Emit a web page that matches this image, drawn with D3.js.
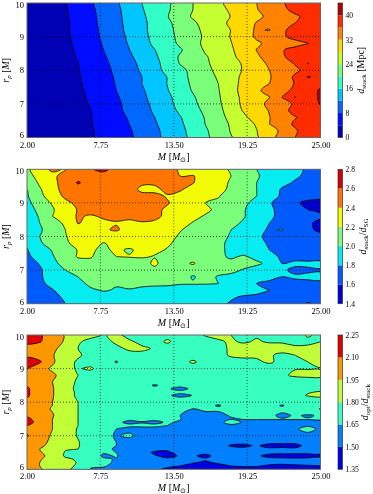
<!DOCTYPE html>
<html>
<head>
<meta charset="utf-8">
<script src="https://cdn.jsdelivr.net/npm/d3@7"></script>
<style>
  html, body { margin: 0; padding: 0; background: #fff; }
  svg { display: block; filter: blur(0.3px); }
  text { font-family: "Liberation Serif", serif; fill: #000; }
</style>
</head>
<body>
<svg id="fig" width="373" height="494"></svg>
<script>
// grid axes: one column per solar mass, rows run from r_p = 10 down to r_p = 6
const massValues = d3.range(2, 26);
const rpValues = [10, 9.8, 9.6, 9.4, 9.2, 9, 8.8, 8.6, 8.4, 8.2, 8, 7.8, 7.6, 7.4, 7.2, 7, 6.8, 6.6, 6.4, 6.2, 6];
// bottom panel has thin features, so it gets extra rows
const optRpValues = [10, 9.8, 9.6, 9.4, 9.2, 9, 8.8, 8.6, 8.5, 8.4, 8.3, 8.2, 8.1, 8, 7.9, 7.8, 7.6, 7.5, 7.4, 7.3, 7.2, 7, 6.8, 6.7, 6.6, 6.5, 6.4, 6.3, 6.2, 6.1, 6];
const massTicks = [2, 7.75, 13.5, 19.25, 25];
const rpTicks = [6, 7, 8, 9, 10];

const stackLevels = [0, 4, 8, 12, 16, 20, 24, 28, 32, 36, 40, 44];
const stackTicks = [0, 8, 16, 24, 32, 40];
const ratioLevels = [1.4, 1.6, 1.8, 2.0, 2.2, 2.4, 2.6, 2.8];
const optLevels = [1.35, 1.5, 1.65, 1.8, 1.95, 2.1, 2.25];

// d_stack [Mpc]
const stackGrid = [
  [1,1.3,2.5,3.8,5.6,7.5,9.5,11.4,13.7,16,17.7,19.3,21.5,24,25.7,27.4,28.9,30.5,32,33.8,35.6,37.3,38,38.5],
  [1,1.2,2.5,3.7,5.4,7.3,9.3,11.2,13.4,15.7,17.7,19.5,21.7,24,25.5,27,28.5,30.2,31.8,33.5,35.3,36.8,38,38.5],
  [1,1.2,2.4,3.6,5.3,7.1,9.1,11.1,13.2,15.3,17.6,19.8,22.3,24.4,25.6,26.9,28.1,29.7,31.3,32.7,34.1,35.5,36.8,38],
  [1,1.2,2.3,3.5,5.1,7,9,11,13,15.1,17.2,19.3,21.3,23.4,25.2,26.9,28.6,30.4,32.2,33.4,34.7,36,37.5,38.5],
  [1,1.1,2.3,3.5,5,6.8,8.8,10.8,12.9,15.1,17.2,19.1,21,23,24.8,26.4,28.1,30.7,32.4,31.8,35.5,37,38,38.5],
  [1,1.1,2.2,3.4,4.9,6.7,8.6,10.6,12.6,14.8,17,18.9,20.8,22.7,24.6,26.4,28.2,30.5,32.5,34,35.5,37,38,39],
  [1,1.1,2.2,3.3,4.7,6.4,8.3,10.3,12.3,14.6,16.7,18.6,20.6,22.8,24.8,26.4,27.9,29.7,31.5,32.8,33.9,34.9,35.9,37.5],
  [1,1,2.1,3.2,4.4,6.2,8,9.9,11.9,13.9,15.9,17.8,19.6,22,24.5,26,27.5,29.9,32.1,33.9,35.8,37,38,39],
  [0.9,1,2,3.1,4.2,5.9,7.6,9.5,11.4,13.3,15.3,18,20.4,22,23.7,25.4,27.2,29.3,31.4,33.5,35.6,37.2,37.9,39],
  [0.9,1,2,3,3.9,5.8,7.2,9,10.9,12.8,14.9,17.4,20.2,21.8,23.5,25.1,26.8,28.4,30.6,32.6,34.4,36.2,40.1,39],
  [0.9,1,1.9,3,3.9,5.3,7,8.7,10.5,12.5,14.8,17,19,21,22.9,25,26.7,28.3,30.2,32,33.7,35.4,37,38.8],
  [0.9,1,1.9,2.9,3.7,5.1,6.8,8.4,10.2,12,14.1,16.1,18.8,20.8,22.6,24.4,27,28.6,30.1,31.7,34.1,36.5,40.2,39.3],
  [0.8,1,1.8,2.8,3.6,4.9,6.5,8.2,10,12,14,16.1,18.5,20.6,22.3,24,27.1,28.7,30.3,32,34.1,36.2,37.5,38.8],
  [0.8,0.9,1.7,2.7,3.5,4.6,6.3,8,9.6,11.5,13.7,15.8,18,20.3,22,23.8,27,29,31.4,33.2,34.9,36.8,38,40.5],
  [0.8,0.9,1.6,2.6,3.4,4.4,6,7.6,9.4,11.2,13.3,15.3,17.3,19.6,21.7,23.5,27,28.6,30.2,31.9,36.1,40.1,38,40.6],
  [0.7,0.8,1.5,2.5,3.3,4.2,5.8,7.3,9,10.8,12.9,15,17.1,19.2,21.4,23.2,26.7,28.6,30.8,32.8,34.6,36.5,38,40.2],
  [0.7,0.8,1.4,2.4,3.2,4,5.6,7.1,8.9,10.6,12.5,14.5,16.6,18.7,20.8,22.7,26.2,28.3,30.2,32.2,35,37,38,39],
  [0.7,0.8,1.3,2.3,3.1,3.9,5.3,6.8,8.3,10,12,13.9,15.8,18,20.3,22.2,25.5,27.4,29.5,31.9,33.8,35.8,37,39],
  [0.7,0.7,1.2,2.2,3,3.8,5.1,6.5,8,9.6,11.6,13.5,15.4,17.6,20.1,22.1,24.5,26.3,28.4,32,34.5,36.5,38,40.1],
  [0.7,0.7,1.1,2.1,2.9,3.7,4.9,6.3,7.6,9.3,11.2,13.1,15.1,17.1,19.6,21.6,24.3,26,27.9,30.6,32.7,35.6,37.5,38.5],
  [0.7,0.7,1.1,2,2.8,3.6,4.7,6,7.4,9,11,12.9,14.9,16.8,19.3,21.3,23.8,25.2,27.5,30.5,33.5,36,37,38]
];

// d_stack / d_SG
const ratioGrid = [
  [2.15,2.35,2.42,2.39,2.52,2.59,2.63,2.55,2.5,2.5,2.5,2.45,2.38,2.3,2.28,2.25,2.18,2.1,2,1.95,1.9,1.85,1.77,1.72],
  [2.1,2.3,2.37,2.45,2.52,2.55,2.55,2.52,2.5,2.5,2.48,2.45,2.4,2.41,2.33,2.28,2.2,2.1,2.02,1.93,1.88,1.83,1.76,1.72],
  [2.05,2.23,2.36,2.46,2.62,2.52,2.52,2.5,2.48,2.42,2.42,2.44,2.44,2.41,2.3,2.26,2.18,2.1,2,1.95,1.85,1.78,1.75,1.72],
  [2,2.18,2.33,2.47,2.5,2.52,2.5,2.48,2.46,2.37,2.37,2.43,2.42,2.33,2.27,2.23,2.18,2.1,2,1.9,1.78,1.74,1.66,1.62],
  [1.98,2.16,2.28,2.44,2.5,2.5,2.48,2.47,2.46,2.44,2.43,2.39,2.34,2.38,2.22,2.21,2.12,2.05,2,1.88,1.77,1.72,1.65,1.63],
  [1.95,2.1,2.22,2.35,2.45,2.5,2.5,2.48,2.47,2.46,2.45,2.41,2.35,2.3,2.2,2.17,2.1,2.03,1.95,1.82,1.72,1.62,1.57,1.56],
  [1.92,2.05,2.18,2.32,2.41,2.47,2.46,2.46,2.46,2.47,2.43,2.38,2.33,2.28,2.24,2.15,2.08,2.01,1.92,1.84,1.73,1.66,1.6,1.58],
  [1.88,2.02,2.2,2.3,2.42,2.38,2.42,2.43,2.43,2.44,2.44,2.36,2.31,2.25,2.18,2.13,2.07,2.01,1.91,1.83,1.75,1.7,1.66,1.62],
  [1.85,2,2.15,2.22,2.41,2.35,2.37,2.39,2.37,2.39,2.37,2.32,2.27,2.19,2.12,2.08,2.04,1.98,1.88,1.8,1.74,1.68,1.62,1.57],
  [1.86,1.98,2.08,2.2,2.3,2.33,2.38,2.42,2.34,2.33,2.3,2.28,2.21,2.15,2.09,2.04,2,1.93,1.85,1.78,1.81,1.68,1.63,1.57],
  [1.85,2,2.08,2.19,2.27,2.3,2.32,2.3,2.3,2.3,2.28,2.25,2.18,2.12,2.07,2.03,1.99,1.93,1.84,1.75,1.71,1.68,1.66,1.64],
  [1.82,1.98,2.07,2.17,2.26,2.28,2.19,2.25,2.27,2.27,2.28,2.22,2.16,2.1,2.06,2.02,1.98,1.92,1.85,1.78,1.73,1.71,1.69,1.68],
  [1.79,1.93,2.01,2.1,2.21,2.22,2.17,2.23,2.18,2.24,2.23,2.19,2.13,2.08,2.05,2.02,1.98,1.92,1.86,1.8,1.76,1.73,1.71,1.7],
  [1.77,1.86,1.99,2.07,2.22,2.21,2.14,2.2,2.21,2.22,2.19,2.11,2.09,2.07,2.05,2.03,1.98,2.02,1.95,1.84,1.78,1.75,1.72,1.7],
  [1.73,1.81,1.97,2.04,2.1,2.16,2.12,2.1,2.1,2.11,2.24,2.09,2.11,2.23,2.06,2.05,2.04,2.04,2.03,1.96,1.8,1.83,1.84,1.86],
  [1.72,1.78,1.88,2,2.05,2.09,2.1,2.08,2.08,2.09,2.15,2.08,2.06,2.05,2.04,2.04,2.03,1.99,1.93,1.87,1.82,1.77,1.77,1.78],
  [1.67,1.78,1.87,1.95,2,2.06,2.06,2.05,2.07,2.07,2.07,2.06,2.05,1.99,2.04,1.99,1.97,1.93,1.88,1.85,1.8,1.82,1.84,1.85],
  [1.64,1.76,1.85,1.9,1.96,2.03,2.04,2.01,2.04,2.03,2.03,2.02,2.01,2.01,2.01,2,1.96,1.89,1.8,1.76,1.74,1.76,1.75,1.76],
  [1.62,1.7,1.79,1.87,1.93,1.98,2.01,1.99,1.99,1.97,1.95,1.96,1.93,1.92,1.91,1.88,1.85,1.84,1.83,1.8,1.72,1.69,1.68,1.7],
  [1.61,1.65,1.75,1.83,1.88,1.92,1.94,1.94,1.93,1.92,1.9,1.9,1.88,1.87,1.85,1.84,1.81,1.79,1.78,1.75,1.72,1.68,1.65,1.66],
  [1.61,1.63,1.73,1.8,1.86,1.9,1.92,1.92,1.91,1.9,1.89,1.88,1.87,1.85,1.84,1.82,1.79,1.74,1.72,1.7,1.67,1.64,1.59,1.62]
];

// d_opt / d_stack
const optGrid = [
  [2.14,2.12,2.02,1.94,1.9,1.85,1.79,1.83,1.76,1.75,1.74,1.76,1.74,1.76,1.81,1.82,1.8,1.77,1.79,1.77,1.78,1.76,1.81,1.78],
  [2.13,2.11,2.03,1.93,1.82,1.75,1.74,1.83,1.82,1.77,1.75,1.82,1.74,1.75,1.75,1.79,1.81,1.79,1.81,1.79,1.79,1.76,1.78,1.8],
  [2.05,2.02,1.98,1.9,1.8,1.74,1.73,1.76,1.83,1.82,1.79,1.73,1.73,1.73,1.74,1.76,1.82,1.84,1.83,1.85,1.84,1.83,1.82,1.84],
  [2.09,2.03,1.96,1.87,1.82,1.75,1.73,1.72,1.74,1.77,1.77,1.73,1.72,1.73,1.73,1.75,1.82,1.83,1.82,1.81,1.78,1.8,1.82,1.84],
  [2.12,2.12,1.97,1.86,1.78,1.74,1.72,1.64,1.72,1.72,1.72,1.72,1.75,1.82,1.75,1.73,1.74,1.76,1.78,1.82,1.76,1.77,1.8,1.83],
  [2.11,2,1.93,1.83,1.79,1.82,1.72,1.71,1.71,1.71,1.71,1.71,1.72,1.73,1.72,1.72,1.72,1.72,1.72,1.73,1.78,1.795,1.795,1.795],
  [2.06,2,1.97,1.9,1.8,1.73,1.71,1.71,1.7,1.7,1.7,1.7,1.7,1.7,1.7,1.7,1.7,1.7,1.7,1.71,1.78,1.82,1.83,1.83],
  [2.06,2,1.95,1.86,1.78,1.72,1.7,1.69,1.69,1.69,1.69,1.69,1.69,1.7,1.7,1.7,1.7,1.7,1.7,1.7,1.71,1.72,1.73,1.74],
  [2.09,2.01,1.955,1.855,1.775,1.72,1.7,1.69,1.69,1.69,1.64,1.68,1.69,1.69,1.7,1.7,1.7,1.7,1.7,1.7,1.71,1.73,1.74,1.75],
  [2.12,2.02,1.96,1.85,1.77,1.72,1.7,1.69,1.69,1.69,1.68,1.665,1.61,1.675,1.7,1.7,1.7,1.7,1.7,1.7,1.72,1.74,1.76,1.76],
  [2.12,2.02,1.96,1.85,1.78,1.72,1.7,1.69,1.69,1.69,1.68,1.68,1.69,1.69,1.7,1.7,1.7,1.7,1.7,1.7,1.72,1.73,1.79,1.81],
  [2.12,2.02,1.96,1.85,1.78,1.72,1.7,1.69,1.69,1.69,1.68,1.67,1.61,1.655,1.7,1.7,1.7,1.7,1.7,1.7,1.72,1.75,1.81,1.84],
  [2.09,2.01,1.955,1.855,1.79,1.72,1.7,1.69,1.69,1.69,1.68,1.68,1.69,1.69,1.7,1.7,1.7,1.7,1.7,1.7,1.71,1.73,1.75,1.76],
  [2.05,2,1.95,1.86,1.8,1.72,1.7,1.69,1.69,1.69,1.68,1.68,1.68,1.68,1.69,1.69,1.7,1.7,1.7,1.7,1.71,1.72,1.73,1.75],
  [2.05,2,1.95,1.86,1.8,1.72,1.7,1.69,1.68,1.68,1.68,1.68,1.68,1.68,1.68,1.64,1.69,1.69,1.69,1.69,1.64,1.71,1.72,1.76],
  [2.05,1.99,1.94,1.87,1.8,1.71,1.69,1.68,1.68,1.67,1.67,1.67,1.67,1.65,1.67,1.67,1.68,1.68,1.68,1.68,1.68,1.71,1.72,1.81],
  [2.08,2.02,1.96,1.86,1.8,1.7,1.68,1.67,1.67,1.67,1.67,1.66,1.65,1.61,1.62,1.62,1.66,1.67,1.67,1.67,1.63,1.66,1.64,1.66],
  [2.13,2.04,1.95,1.86,1.8,1.7,1.68,1.67,1.67,1.67,1.67,1.67,1.655,1.6,1.6,1.6,1.64,1.655,1.655,1.655,1.655,1.655,1.655,1.66],
  [2.15,2.05,1.95,1.86,1.8,1.7,1.68,1.67,1.63,1.645,1.63,1.66,1.64,1.6,1.6,1.6,1.72,1.63,1.63,1.63,1.63,1.63,1.63,1.63],
  [2.1,2.03,1.95,1.87,1.8,1.7,1.68,1.66,1.67,1.67,1.67,1.65,1.62,1.6,1.6,1.6,1.61,1.62,1.62,1.62,1.62,1.62,1.63,1.62],
  [2.07,2.02,1.95,1.87,1.79,1.7,1.68,1.65,1.62,1.62,1.62,1.63,1.6,1.59,1.59,1.59,1.59,1.59,1.59,1.59,1.6,1.62,1.72,1.61],
  [2.11,2.03,1.93,1.87,1.79,1.7,1.68,1.64,1.67,1.61,1.6,1.59,1.58,1.57,1.57,1.57,1.56,1.56,1.56,1.56,1.56,1.57,1.58,1.58],
  [2.05,1.99,1.92,1.85,1.81,1.72,1.68,1.65,1.6,1.57,1.55,1.54,1.54,1.53,1.53,1.52,1.51,1.52,1.52,1.52,1.52,1.52,1.53,1.54],
  [2.04,1.98,1.9,1.83,1.81,1.72,1.68,1.65,1.59,1.56,1.54,1.53,1.53,1.53,1.53,1.52,1.495,1.485,1.51,1.47,1.47,1.47,1.53,1.54],
  [2.02,1.95,1.87,1.81,1.8,1.72,1.67,1.64,1.58,1.55,1.53,1.51,1.52,1.53,1.53,1.53,1.52,1.52,1.52,1.52,1.53,1.52,1.53,1.53],
  [2.01,1.96,1.9,1.79,1.78,1.72,1.66,1.65,1.58,1.54,1.485,1.49,1.52,1.52,1.52,1.53,1.53,1.53,1.53,1.52,1.52,1.52,1.52,1.52],
  [2,1.97,1.92,1.78,1.77,1.72,1.63,1.66,1.58,1.54,1.51,1.47,1.51,1.51,1.48,1.53,1.53,1.53,1.51,1.48,1.47,1.46,1.47,1.48],
  [1.99,1.96,1.9,1.83,1.78,1.71,1.67,1.64,1.57,1.54,1.52,1.52,1.52,1.52,1.51,1.53,1.53,1.53,1.53,1.52,1.52,1.52,1.52,1.53],
  [1.98,1.95,1.88,1.85,1.79,1.7,1.68,1.63,1.57,1.54,1.53,1.52,1.52,1.505,1.49,1.51,1.52,1.52,1.52,1.52,1.52,1.52,1.52,1.52],
  [1.98,1.95,1.89,1.84,1.78,1.67,1.66,1.62,1.56,1.54,1.52,1.51,1.5,1.48,1.47,1.48,1.5,1.505,1.505,1.49,1.48,1.49,1.495,1.5],
  [1.98,1.96,1.9,1.82,1.77,1.64,1.63,1.6,1.56,1.53,1.51,1.49,1.47,1.46,1.45,1.47,1.48,1.48,1.47,1.46,1.46,1.46,1.47,1.47]
];

const plotLeft = 27, plotRight = 320.5;
const barLeft = 338, barRight = 342.5;

// matplotlib jet, channel by channel
const jetR = d3.scaleLinear().domain([0, 0.35, 0.66, 0.89, 1]).range([0, 0, 1, 1, 0.5]);
const jetG = d3.scaleLinear().domain([0, 0.125, 0.375, 0.64, 0.91, 1]).range([0, 0, 1, 1, 0, 0]);
const jetB = d3.scaleLinear().domain([0, 0.11, 0.34, 0.65, 1]).range([0.5, 1, 1, 0, 0]);
function jet(t) {
  return d3.rgb(jetR(t) * 255, jetG(t) * 255, jetB(t) * 255).formatHex();
}

const svg = d3.select("#fig");

// mixed italic / subscript labels
function addParts(text, parts) {
  let shifted = false;
  parts.forEach(function(p) {
    const span = text.append("tspan").text(p.t);
    if (p.i) span.style("font-style", "italic");
    if (p.sub) {
      span.attr("dy", shifted ? 0 : 2).style("font-size", "7px");
      shifted = true;
    } else {
      if (shifted) span.attr("dy", -2);
      shifted = false;
    }
  });
}

function drawPanel(cfg, idx) {
  const g = svg.append("g");
  const x = d3.scaleLinear().domain([2, 25]).range([plotLeft, plotRight]);
  const y = d3.scaleLinear().domain([6, 10]).range([cfg.bottom, cfg.top]);

  // d3.contours puts grid point i at i + 0.5; rows may be unevenly spaced
  const gx = d3.scaleLinear().domain(massValues.map((d, i) => i + 0.5)).range(massValues.map(x));
  const gy = d3.scaleLinear().domain(cfg.rows.map((d, i) => i + 0.5)).range(cfg.rows.map(y));

  const clipId = "clip" + idx;
  svg.append("clipPath").attr("id", clipId).append("rect")
    .attr("x", plotLeft).attr("y", cfg.top)
    .attr("width", plotRight - plotLeft).attr("height", cfg.bottom - cfg.top);

  const bands = cfg.levels.slice(0, -1);
  const colors = bands.map((l, i) => jet((i + 0.5) / bands.length));

  const contours = d3.contours()
    .size([massValues.length, cfg.rows.length])
    .smooth(true)
    .thresholds(bands)(cfg.grid.flat());

  const ring = d3.line()
    .x(p => gx(p[0]))
    .y(p => gy(p[1]))
    .curve(d3.curveCatmullRomClosed.alpha(0.5));

  const plot = g.append("g").attr("clip-path", `url(#${clipId})`);
  plot.selectAll("path")
    .data(contours)
    .enter().append("path")
    .attr("d", c => c.coordinates.map(poly => poly.map(r => ring(r.slice(0, -1))).join("")).join(""))
    .attr("fill", (c, i) => colors[i])
    .attr("fill-rule", "evenodd")
    .attr("stroke", "#000")
    .attr("stroke-width", 0.8);

  // dotted grid on top of the fills
  plot.selectAll(".gx").data(massTicks.slice(1, -1)).enter().append("line")
    .attr("x1", d => x(d)).attr("x2", d => x(d))
    .attr("y1", cfg.top).attr("y2", cfg.bottom)
    .attr("stroke", "#000").attr("stroke-width", 0.7).attr("stroke-dasharray", "1,2");
  plot.selectAll(".gy").data(rpTicks.slice(1, -1)).enter().append("line")
    .attr("x1", plotLeft).attr("x2", plotRight)
    .attr("y1", d => y(d)).attr("y2", d => y(d))
    .attr("stroke", "#000").attr("stroke-width", 0.7).attr("stroke-dasharray", "1,2");

  g.append("rect")
    .attr("x", plotLeft).attr("y", cfg.top)
    .attr("width", plotRight - plotLeft).attr("height", cfg.bottom - cfg.top)
    .attr("fill", "none").attr("stroke", "#666").attr("stroke-width", 1);

  // axes
  const xAxis = g.append("g")
    .attr("transform", `translate(0,${cfg.bottom})`)
    .call(d3.axisBottom(x).tickValues(massTicks).tickFormat(d3.format(".2f")).tickSize(0).tickPadding(2));
  const yAxis = g.append("g")
    .attr("transform", `translate(${plotLeft},0)`)
    .call(d3.axisLeft(y).tickValues(rpTicks).tickFormat(d3.format("d")).tickSize(0).tickPadding(3));
  [xAxis, yAxis].forEach(function(a) {
    a.select(".domain").remove();
    a.selectAll("text").style("font-family", '"Liberation Serif", serif').style("font-size", "8.5px");
  });
  // keep the corner labels clear of each other and of the page edge
  xAxis.selectAll("text").attr("dy", "0.95em");
  yAxis.selectAll("text").attr("dy", d => d === 6 ? "0.05em" : d === 10 ? "0.5em" : "0.32em");

  const xLabel = g.append("text")
    .attr("x", (plotLeft + plotRight) / 2).attr("y", cfg.bottom + 22)
    .attr("text-anchor", "middle").style("font-size", "10px");
  addParts(xLabel, [{t: "M", i: true}, {t: " ["}, {t: "M", i: true}, {t: "\u2299", sub: true}, {t: "]"}]);

  const yLabel = g.append("text")
    .attr("transform", `translate(8.5,${(cfg.top + cfg.bottom) / 2}) rotate(-90)`)
    .attr("text-anchor", "middle").style("font-size", "10px");
  addParts(yLabel, [{t: "r", i: true}, {t: "p", i: true, sub: true}, {t: " ["}, {t: "M", i: true}, {t: "]"}]);

  // colour bar
  const lo = cfg.levels[0], hi = cfg.levels[cfg.levels.length - 1];
  const cy = d3.scaleLinear().domain([lo, hi]).range([cfg.bottom, cfg.top]);
  g.append("g").selectAll("rect")
    .data(bands)
    .enter().append("rect")
    .attr("x", barLeft).attr("width", barRight - barLeft)
    .attr("y", (d, i) => cy(cfg.levels[i + 1]))
    .attr("height", (d, i) => cy(d) - cy(cfg.levels[i + 1]))
    .attr("fill", (d, i) => colors[i]);
  g.append("rect")
    .attr("x", barLeft).attr("y", cfg.top)
    .attr("width", barRight - barLeft).attr("height", cfg.bottom - cfg.top)
    .attr("fill", "none").attr("stroke", "#333").attr("stroke-width", 0.7);
  const barAxis = g.append("g")
    .attr("transform", `translate(${barRight},0)`)
    .call(d3.axisRight(cy).tickValues(cfg.barTicks).tickFormat(d3.format(cfg.barFormat)).tickSize(0).tickPadding(3));
  barAxis.select(".domain").remove();
  barAxis.selectAll("text").style("font-family", '"Liberation Serif", serif').style("font-size", "7.5px");

  const barLabel = g.append("text")
    .attr("transform", `translate(${cfg.labelX},${(cfg.top + cfg.bottom) / 2}) rotate(-90)`)
    .attr("text-anchor", "middle").style("font-size", "10px");
  addParts(barLabel, cfg.barLabel);
}

drawPanel({
  top: 3, bottom: 137.5, grid: stackGrid, rows: rpValues, levels: stackLevels,
  barTicks: stackTicks, barFormat: "d", labelX: 364,
  barLabel: [{t: "d", i: true}, {t: "stack", sub: true}, {t: " [Mpc]"}]
}, 0);
drawPanel({
  top: 169.3, bottom: 303.7, grid: ratioGrid, rows: rpValues, levels: ratioLevels,
  barTicks: ratioLevels, barFormat: ".1f", labelX: 366,
  barLabel: [{t: "d", i: true}, {t: "stack", sub: true}, {t: "/"}, {t: "d", i: true}, {t: "SG", sub: true}]
}, 1);
drawPanel({
  top: 335, bottom: 469.3, grid: optGrid, rows: optRpValues, levels: optLevels,
  barTicks: optLevels, barFormat: ".2f", labelX: 368,
  barLabel: [{t: "d", i: true}, {t: "opt", sub: true}, {t: "/"}, {t: "d", i: true}, {t: "stack", sub: true}]
}, 2);
</script>
</body>
</html>
